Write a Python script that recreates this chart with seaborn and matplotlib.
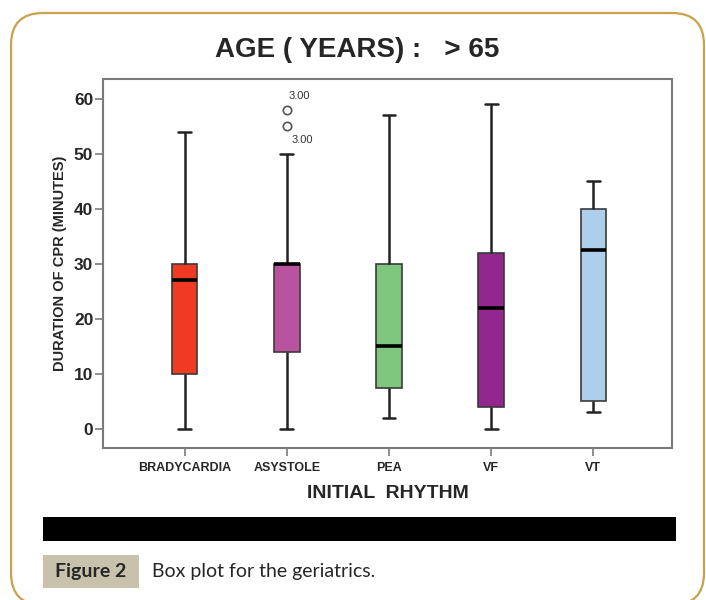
import numpy as np
import pandas as pd
import matplotlib
matplotlib.use("Agg")
import matplotlib.pyplot as plt
from matplotlib.patches import FancyBboxPatch, Rectangle
import seaborn as sns

# initial rhythm categories
rhythms = ["BRADYCARDIA", "ASYSTOLE", "PEA", "VF", "VT"]

# five-number summaries (min, Q1, median, Q3, max), minutes
bradycardia = [0, 10, 27, 30, 54]
asystole = [0, 14, 30, 30, 50]
pea = [2, 7.5, 15, 30, 57]
vf = [0, 4, 22, 32, 59]
vt = [3, 5, 32.5, 40, 45]

# outliers shown as open circles
outlier_rhythm = ["ASYSTOLE", "ASYSTOLE"]
outlier_values = [58, 55]
outlier_labels = ["3.00", "3.00"]

box_colors = ["#ef3b24", "#b9539f", "#7ec57e", "#93278f", "#aecfec"]

groups = [bradycardia, asystole, pea, vf, vt]
df = pd.DataFrame({
    "rhythm": np.repeat(rhythms, [len(g) for g in groups]),
    "minutes": np.concatenate(groups),
})

sns.set_style("ticks")
plt.rcParams["font.family"] = ["Liberation Sans", "DejaVu Sans"]

fig = plt.figure(figsize=(7.06, 6.0), dpi=100)
ax = fig.add_axes([103 / 706, 1 - 448 / 600, 569 / 706, 369 / 600])

sns.boxplot(data=df, x="rhythm", y="minutes", hue="rhythm", order=rhythms,
            palette=dict(zip(rhythms, box_colors)), saturation=1, width=0.25,
            linecolor="#3a3a3a", linewidth=1.2, legend=False, ax=ax,
            medianprops=dict(color="black", linewidth=2.6),
            whiskerprops=dict(color="#222222", linewidth=1.8),
            capprops=dict(color="#222222", linewidth=1.8))

sns.stripplot(x=outlier_rhythm, y=outlier_values, order=rhythms, jitter=False,
              color="white", edgecolor="#555555", linewidth=1.2, size=6, ax=ax)

# "3.00" case labels next to the outliers
xpos = rhythms.index(outlier_rhythm[0])
ax.text(xpos + 0.02, outlier_values[0] + 1.6, outlier_labels[0], fontsize=8,
        color="#333333", va="bottom", ha="left")
ax.text(xpos + 0.05, outlier_values[1] - 1.6, outlier_labels[1], fontsize=8,
        color="#333333", va="top", ha="left")

ax.set_xlim(-0.8, 4.77)
ax.set_ylim(-3.5, 63.6)
ax.set_yticks(range(0, 61, 10))
for s in ax.spines.values():
    s.set_visible(True)
    s.set_color("#7a7a7a")
    s.set_linewidth(1.5)
ax.tick_params(axis="y", length=6, width=1.2, color="#7a7a7a", labelsize=12.5, pad=1)
ax.tick_params(axis="x", length=6, width=1.2, color="#7a7a7a", labelsize=9, pad=4)
for lab in ax.get_xticklabels() + ax.get_yticklabels():
    lab.set_fontweight("bold")

ax.set_xlabel("INITIAL  RHYTHM", fontsize=14, fontweight="bold", labelpad=8)
ax.set_ylabel("DURATION OF CPR (MINUTES)", fontsize=10.5, fontweight="bold", labelpad=5)

fig.text(357 / 706, 1 - 50 / 600, "AGE ( YEARS) :   > 65", fontsize=20,
         fontweight="bold", ha="center", va="center")

# page decorations: rounded golden frame, black bar, caption
frame = FancyBboxPatch((0.11, -0.05), 6.93, 5.92,
                       boxstyle="round,pad=0,rounding_size=0.32",
                       transform=fig.dpi_scale_trans, fill=False,
                       edgecolor="#c9a24d", linewidth=1.6)
fig.add_artist(frame)
fig.add_artist(Rectangle((43 / 706, 1 - 541 / 600), 633 / 706, 24 / 600,
                         transform=fig.transFigure, facecolor="black",
                         edgecolor="none"))
fig.add_artist(Rectangle((43 / 706, 1 - 588 / 600), 96 / 706, 33 / 600,
                         transform=fig.transFigure, facecolor="#c8c2ad",
                         edgecolor="none"))
fig.text(91 / 706, 1 - 572 / 600, "Figure 2", fontsize=14, fontweight="bold",
         ha="center", va="center", family=["Lato", "DejaVu Sans"])
fig.text(152 / 706, 1 - 572 / 600, "Box plot for the geriatrics.", fontsize=14,
         ha="left", va="center", family=["Lato", "DejaVu Sans"])

fig.savefig("out.png", dpi=100)
